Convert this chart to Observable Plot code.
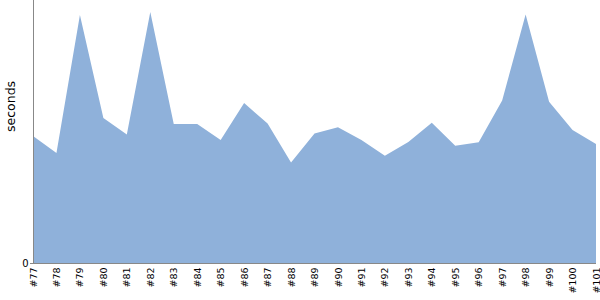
<!DOCTYPE html>
<html>
<head>
<meta charset="utf-8">
<script src="https://cdn.jsdelivr.net/npm/d3@7"></script>
<script src="https://cdn.jsdelivr.net/npm/@observablehq/plot@0.6"></script>
<style>
  html, body { margin: 0; padding: 0; background: #fff; overflow: hidden; }
  #chart svg { display: block; max-width: none !important; width: 600px; height: 300px; }
</style>
</head>
<body>
<div id="chart"></div>
<script>
const builds = ["#77","#78","#79","#80","#81","#82","#83","#84","#85","#86","#87","#88","#89",
  "#90","#91","#92","#93","#94","#95","#96","#97","#98","#99","#100","#101"];
const seconds = [12.7, 11.0, 24.8, 14.5, 12.85, 25.1, 13.9, 13.9, 12.3, 16.0, 13.95, 10.05, 12.95,
  13.57, 12.3, 10.73, 12.1, 14.03, 11.73, 12.07, 16.25, 24.85, 16.13, 13.3, 11.9];
const yTicks = [0];

const data = builds.map((b, i) => ({build: b, seconds: seconds[i]}));
const M = {marginLeft: 33, marginRight: 4, marginTop: 0, marginBottom: 37};

const chart = Plot.plot({
  width: 600,
  height: 300,
  ...M,
  style: {fontFamily: "DejaVu Sans", fontSize: "9.5px", color: "#000", background: "#fff"},
  x: {type: "point", domain: builds, padding: 0, round: false},
  y: {domain: [0, 26.3]},
  marks: [
    Plot.areaY(data, {x: "build", y: "seconds", fill: "#8fb1da", curve: "linear"}),
    Plot.ruleY([0], {stroke: "#888", strokeWidth: 1}),
    Plot.ruleX([builds[0]], {stroke: "#888", strokeWidth: 1}),
    Plot.axisX({tickRotate: -90, tickSize: 0, tickPadding: 4, label: null, fontSize: 9.5, ...M}),
    Plot.axisY({ticks: yTicks, tickSize: 3, stroke: "#888", tickPadding: 2, label: null, fontSize: 10, ...M}),
    Plot.text(["seconds"], {frameAnchor: "left", dx: -23, rotate: -90, fontSize: 12.5, fill: "#000"})
  ]
});
document.getElementById("chart").appendChild(chart);
</script>
</body>
</html>
